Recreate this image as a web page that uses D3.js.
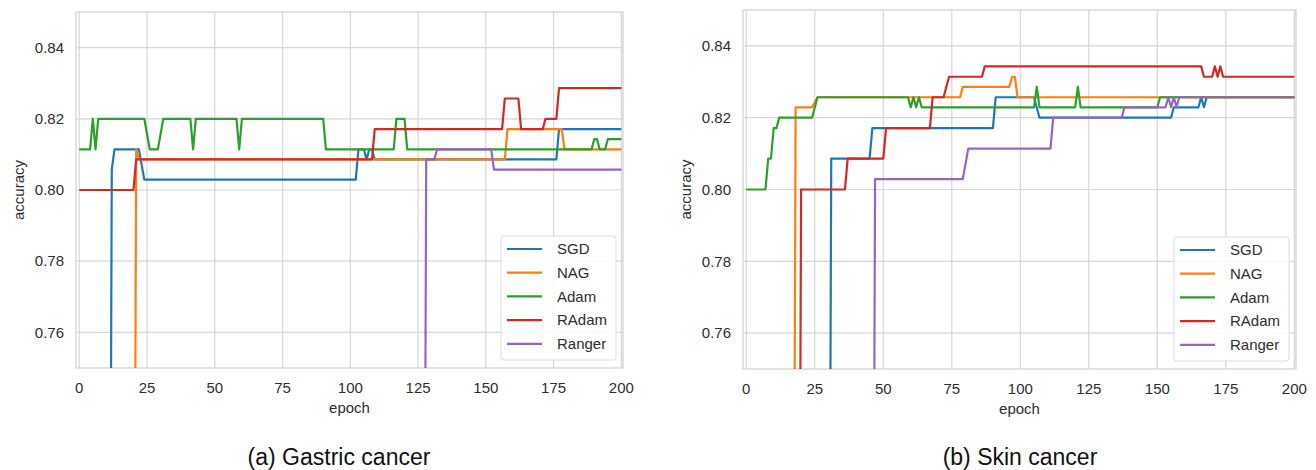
<!DOCTYPE html>
<html lang="en">
<head>
  <meta charset="UTF-8">
  <title>Optimizer accuracy curves</title>
  <style>
    body {
      margin: 0;
      padding: 0;
      background-color: #ffffff;
      font-family: 'Liberation Sans', Arial, sans-serif;
    }

    svg text {
      fill: #2e2e2e;
    }

    .grid line {
      stroke: #d6d6d6;
      stroke-width: 1.2px;
    }

    .frame {
      fill: none;
      stroke: #d6d6d6;
      stroke-width: 1.4px;
    }

    .tick-label {
      font-size: 15px;
    }

    .axis-label {
      font-size: 15px;
    }

    .caption {
      font-size: 23px;
      fill: #111;
    }

    .curve {
      fill: none;
      stroke-width: 2.2px;
      stroke-linejoin: round;
    }

    .legend-box {
      fill: #ffffff;
      fill-opacity: 0.85;
      stroke: #dcdcdc;
      stroke-width: 1px;
    }

    .legend text {
      font-size: 15px;
    }
  </style>
</head>
<body>
  <svg width="1316" height="470"></svg>

  <script src="https://d3js.org/d3.v7.min.js"></script>
  <script>
    // ---- data ----
    const optimizers = ["SGD", "NAG", "Adam", "RAdam", "Ranger"];
    const epochTicks = [0, 25, 50, 75, 100, 125, 150, 175, 200];
    const accTicks = [0.76, 0.78, 0.80, 0.82, 0.84];
    const captions = ["(a) Gastric cancer", "(b) Skin cancer"];

    // vertices [epoch, accuracy]; curves start below the visible range
    const gastricSGD = [[11, 0.6], [12, 0.8057], [13, 0.8114], [22, 0.8114], [24, 0.8029], [102, 0.8029], [103, 0.8114],
      [105, 0.8114], [106, 0.8086], [107, 0.8114], [108, 0.8114], [109, 0.8086], [176, 0.8086], [177, 0.8171], [200, 0.8171]];
    const gastricNAG = [[20, 0.6], [21, 0.8114], [22, 0.8086], [157, 0.8086], [158, 0.8171], [178, 0.8171], [179, 0.8114], [200, 0.8114]];
    const gastricAdam = [[0, 0.8114], [4, 0.8114], [5, 0.82], [6, 0.8114], [7, 0.82], [24, 0.82], [26, 0.8114], [29, 0.8114],
      [31, 0.82], [41, 0.82], [42, 0.8114], [43, 0.82], [58, 0.82], [59, 0.8114], [60, 0.82], [90, 0.82], [91, 0.8114],
      [116, 0.8114], [117, 0.82], [120, 0.82], [121, 0.8114], [189, 0.8114], [190, 0.8143], [191, 0.8143], [192, 0.8114],
      [194, 0.8114], [195, 0.8143], [200, 0.8143]];
    const gastricRAdam = [[0, 0.80], [20, 0.80], [21, 0.8086], [108, 0.8086], [109, 0.8171], [156, 0.8171], [157, 0.8257],
      [162, 0.8257], [163, 0.8171], [171, 0.8171], [172, 0.82], [176, 0.82], [177, 0.8286], [200, 0.8286]];
    const gastricRanger = [[127, 0.6], [128, 0.8086], [131, 0.8086], [132, 0.8114], [152, 0.8114], [153, 0.8057], [200, 0.8057]];

    const skinSGD = [[30, 0.6], [31, 0.8086], [45, 0.8086], [46, 0.8171], [90, 0.8171], [91, 0.8257], [105, 0.8257], [107, 0.82],
      [155, 0.82], [156, 0.8229], [165, 0.8229], [166, 0.8257], [167, 0.8229], [168, 0.8257], [200, 0.8257]];
    const skinNAG = [[17, 0.6], [18, 0.8229], [24, 0.8229], [26, 0.8257], [78, 0.8257], [79, 0.8286], [96, 0.8286], [97, 0.8314],
      [98, 0.8314], [99, 0.8257], [200, 0.8257]];
    const skinAdam = [[0, 0.80], [7, 0.80], [8, 0.8086], [9, 0.8086], [10, 0.8171], [11, 0.8171], [12, 0.82], [24, 0.82],
      [26, 0.8257], [59, 0.8257], [60, 0.8229], [61, 0.8257], [62, 0.8229], [63, 0.8257], [64, 0.8229], [105, 0.8229],
      [106, 0.8286], [107, 0.8229], [120, 0.8229], [121, 0.8286], [122, 0.8229], [150, 0.8229], [151, 0.8257], [200, 0.8257]];
    const skinRAdam = [[19, 0.6], [20, 0.80], [36, 0.80], [37, 0.8086], [50, 0.8086], [51, 0.8171], [67, 0.8171], [68, 0.8257],
      [72, 0.8257], [73, 0.8286], [74, 0.8314], [86, 0.8314], [87, 0.8343], [166, 0.8343], [167, 0.8314], [170, 0.8314],
      [171, 0.8343], [172, 0.8314], [173, 0.8343], [174, 0.8314], [200, 0.8314]];
    const skinRanger = [[46, 0.6], [47, 0.8029], [79, 0.8029], [81, 0.8114], [111, 0.8114], [112, 0.82], [137, 0.82],
      [138, 0.8229], [153, 0.8229], [154, 0.8257], [155, 0.8229], [156, 0.8257], [157, 0.8229], [158, 0.8257], [200, 0.8257]];

    const colors = d3.schemeCategory10;

    const panels = [
      { series: [gastricSGD, gastricNAG, gastricAdam, gastricRAdam, gastricRanger], left: 76, right: 623, top: 12, bottom: 368, captionX: 339 },
      { series: [skinSGD, skinNAG, skinAdam, skinRAdam, skinRanger], left: 743, right: 1296, top: 10, bottom: 369, captionX: 1020 },
    ];

    const svg = d3.select("svg");

    panels.forEach((p, i) => {
      const x = d3.scaleLinear().domain([-1.2, 200.6]).range([p.left, p.right]);
      const y = d3.scaleLinear().domain([0.75, 0.85]).range([p.bottom, p.top]);
      const g = svg.append("g");

      // grid
      const grid = g.append("g").attr("class", "grid");
      grid.selectAll(".vx").data(epochTicks).enter().append("line")
        .attr("x1", (d) => x(d)).attr("x2", (d) => x(d))
        .attr("y1", p.top).attr("y2", p.bottom);
      grid.selectAll(".hy").data(accTicks).enter().append("line")
        .attr("x1", p.left).attr("x2", p.right)
        .attr("y1", (d) => y(d)).attr("y2", (d) => y(d));

      g.append("rect").attr("class", "frame")
        .attr("x", p.left).attr("y", p.top)
        .attr("width", p.right - p.left).attr("height", p.bottom - p.top);

      // tick labels
      g.selectAll(".xl").data(epochTicks).enter().append("text")
        .attr("class", "tick-label")
        .attr("x", (d) => x(d)).attr("y", p.bottom + 25)
        .attr("text-anchor", "middle")
        .text((d) => d);
      g.selectAll(".yl").data(accTicks).enter().append("text")
        .attr("class", "tick-label")
        .attr("x", p.left - 12).attr("y", (d) => y(d))
        .attr("dy", "0.35em")
        .attr("text-anchor", "end")
        .text((d) => d3.format(".2f")(d));

      g.append("text").attr("class", "axis-label")
        .attr("x", (p.left + p.right) / 2).attr("y", p.bottom + 45)
        .attr("text-anchor", "middle").text("epoch");
      g.append("text").attr("class", "axis-label")
        .attr("transform", `translate(${p.left - 52},${(p.top + p.bottom) / 2}) rotate(-90)`)
        .attr("text-anchor", "middle").text("accuracy");

      // curves
      const clipId = "clip" + i;
      g.append("clipPath").attr("id", clipId).append("rect")
        .attr("x", p.left).attr("y", p.top)
        .attr("width", p.right - p.left).attr("height", p.bottom - p.top);

      const line = d3.line().x((d) => x(d[0])).y((d) => y(d[1]));
      g.append("g").attr("clip-path", `url(#${clipId})`)
        .selectAll("path").data(p.series).enter().append("path")
        .attr("class", "curve")
        .attr("stroke", (d, k) => colors[k])
        .attr("d", line);

      // legend
      const lw = 115, lh = 124;
      const lx = p.right - 7 - lw, ly = p.bottom - 8 - lh;
      const legend = g.append("g").attr("class", "legend").attr("transform", `translate(${lx},${ly})`);
      legend.append("rect").attr("class", "legend-box")
        .attr("width", lw).attr("height", lh).attr("rx", 3);
      const item = legend.selectAll(".item").data(optimizers).enter().append("g")
        .attr("transform", (d, k) => `translate(0,${13 + k * 23.7})`);
      item.append("line")
        .attr("x1", 6).attr("x2", 41)
        .attr("stroke", (d, k) => colors[k]).attr("stroke-width", 2.2);
      item.append("text").attr("x", 56).attr("dy", "0.35em").text((d) => d);

      svg.append("text").attr("class", "caption")
        .attr("x", p.captionX).attr("y", 465)
        .attr("text-anchor", "middle").text(captions[i]);
    });
  </script>
</body>
</html>
